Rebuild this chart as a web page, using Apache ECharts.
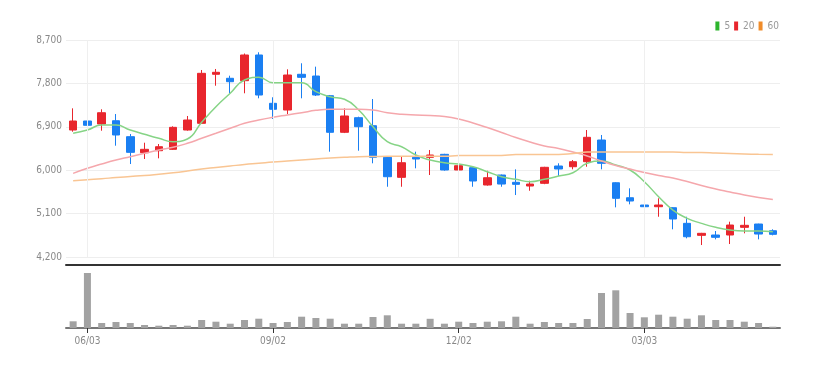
<!DOCTYPE html>
<html lang="ko">
<head>
<meta charset="utf-8" />
<title>Weekly candles</title>
<style>
  html, body { margin: 0; padding: 0; background: #fff; }
  #chart { width: 830px; height: 369px; }
</style>
</head>
<body>
<div id="chart"></div>
<script src="https://cdn.jsdelivr.net/npm/echarts@6/dist/echarts.min.js"></script>
<script>
const dates = ['05/27','06/03','06/10','06/17','06/24','07/01','07/08','07/15','07/22','07/29',
  '08/05','08/12','08/19','08/26','09/02','09/09','09/16','09/23','09/30','10/07',
  '10/14','10/21','10/28','11/04','11/11','11/18','11/25','12/02','12/09','12/16',
  '12/23','12/30','01/06','01/13','01/20','01/27','02/03','02/10','02/17','02/24',
  '03/03','03/10','03/17','03/24','03/31','04/07','04/14','04/21','04/28','05/05'];
const tickDates = ['06/03', '09/02', '12/02', '03/03'];

const opens  = [6833,7020,6958,7026,6695,6363,6404,6433,6833,6972, 7989,7906,7856,8389,7387,7248,7989,7953,7545,6786,
                7089,6923,6267,5852,6267,6267,6329,6004,6052,5693, 5900,5749,5672,5728,6087,6072,6176,6626,5740,5429,
                5278,5243,5222,4898,4649,4656,4656,4815,4884,4745];
const closes = [7020,6931,7192,6730,6370,6433,6487,6889,7041,8009, 8030,7835,8389,7559,7263,7974,7926,7559,6786,7124,
                6902,6267,5865,6155,6232,6315,6004,6093,5776,5844, 5713,5707,5713,6060,6025,6176,6682,6143,5417,5361,
                5243,5278,4988,4620,4691,4608,4863,4857,4676,4670];
const lows   = [6798,6889,6819,6508,6128,6232,6246,6420,6820,6958, 7752,7595,7595,7491,7062,7165,7491,7539,6384,6770,
                6404,6143,5657,5657,6039,5900,5990,5693,5657,5680, 5657,5485,5574,5710,5879,6018,6072,6018,5230,5292,
                5139,5035,4774,4587,4448,4566,4469,4691,4566,4649];
const highs  = [7283,7698,7263,7165,6750,6570,6543,6910,7124,8078, 8099,7960,8420,8445,7512,8092,8217,8147,7560,7283,
                7110,7476,6280,6294,6384,6419,6340,6155,6060,5989, 5910,6018,5782,6070,6143,6211,6833,6730,5750,5624,
                5361,5417,5230,5035,4700,4739,4932,5035,4890,4774];

const ma5  = [6765,6833,6937,6937,6833,6744,6661,6591,6647,6995, 7317,7595,7870,7926,7815,7815,7815,7628,7524,7470,
              7248,6902,6591,6487,6315,6211,6155,6128,6072,5969, 5865,5811,5761,5811,5879,5948,6143,6190,6107,6004,
              5761,5450,5174,5002,4898,4815,4760,4739,4739,4725];
const ma20 = [5935,6039,6128,6211,6280,6350,6419,6475,6557,6661, 6765,6869,6972,7041,7097,7145,7192,7241,7263,7263,
              7263,7248,7192,7159,7145,7135,7114,7062,6979,6885, 6782,6678,6585,6502,6450,6377,6294,6190,6097,6024,
              5952,5890,5838,5765,5682,5610,5548,5485,5433,5392];
const ma60 = [5782,5803,5823,5848,5869,5890,5917,5946,5983,6025, 6056,6087,6118,6143,6170,6190,6211,6232,6253,6267,
              6280,6284,6288,6288,6288,6288,6288,6305,6305,6305, 6305,6325,6325,6325,6325,6346,6377,6377,6377,6377,
              6377,6377,6377,6367,6367,6357,6346,6336,6329,6325];

const volumes = [134,1100,100,120,100,60,46,60,46,160, 126,86,160,186,100,120,226,200,186,86,
                 86,220,254,86,86,184,86,126,100,126, 134,226,86,120,100,100,180,700,754,300,
                 214,266,226,186,254,160,160,126,100,26];

const upColor = '#e8262d';
const downColor = '#1a7ff2';
const labelFont = "'Liberation Sans Narrow', 'DejaVu Sans Condensed', sans-serif";

const candles = dates.map((d, i) => [opens[i], closes[i], lows[i], highs[i]]);
const showTick = (idx, val) => tickDates.indexOf(val) !== -1;

const chart = echarts.init(document.getElementById('chart'));
chart.setOption({
  animation: false,
  backgroundColor: '#fff',
  legend: {
    data: ['5', '20', '60'],
    top: 16,
    right: 46,
    icon: 'rect',
    itemWidth: 4,
    itemHeight: 9,
    itemGap: 4,
    textStyle: { fontSize: 10, color: '#999', fontFamily: labelFont }
  },
  grid: [
    { left: 66, right: 50, top: 40, height: 217 },
    { left: 66, right: 50, top: 268, height: 60 }
  ],
  xAxis: [
    {
      type: 'category', gridIndex: 0, data: dates, offset: 8,
      axisLine: { lineStyle: { color: '#333', width: 2 } },
      axisTick: { show: false },
      axisLabel: { show: false },
      splitLine: { show: false }
    },
    {
      type: 'category', gridIndex: 1, data: dates,
      axisLine: { lineStyle: { color: '#777', width: 2 } },
      axisTick: { show: true, alignWithLabel: true, interval: showTick, length: 5, lineStyle: { color: '#333', width: 1 } },
      axisLabel: { interval: showTick, color: '#888', fontSize: 10, margin: 8, fontFamily: labelFont }
    }
  ],
  yAxis: [
    {
      type: 'value', gridIndex: 0, min: 4200, max: 8700, interval: 900,
      axisLine: { show: false },
      axisTick: { show: false },
      splitLine: { lineStyle: { color: '#eeeeee' } },
      axisLabel: {
        color: '#888', fontSize: 10, margin: 4, fontFamily: labelFont,
        formatter: v => v.toLocaleString('en-US')
      }
    },
    {
      type: 'value', gridIndex: 1, min: 0, max: 1200,
      axisLine: { show: false }, axisTick: { show: false },
      axisLabel: { show: false }, splitLine: { show: false }
    }
  ],
  series: [
    {
      name: 'price', type: 'candlestick', xAxisIndex: 0, yAxisIndex: 0,
      data: candles, barWidth: 8,
      itemStyle: { color: upColor, color0: downColor, borderColor: upColor, borderColor0: downColor, borderWidth: 1 },
      markLine: {
        silent: true, symbol: 'none', label: { show: false },
        lineStyle: { color: '#efefef', width: 1, type: 'solid' },
        data: tickDates.map(d => ({ xAxis: d }))
      }
    },
    {
      name: '5', type: 'line', data: ma5, smooth: true, showSymbol: false,
      lineStyle: { color: '#86d486', width: 1.5 }, itemStyle: { color: '#2db52d' }
    },
    {
      name: '20', type: 'line', data: ma20, smooth: true, showSymbol: false,
      lineStyle: { color: '#f5a7ac', width: 1.5 }, itemStyle: { color: '#e8262d' }
    },
    {
      name: '60', type: 'line', data: ma60, smooth: true, showSymbol: false,
      lineStyle: { color: '#f9c593', width: 1.5 }, itemStyle: { color: '#f08c2a' }
    },
    {
      name: 'volume', type: 'bar', xAxisIndex: 1, yAxisIndex: 1,
      data: volumes, barWidth: 7,
      itemStyle: { color: '#a2a2a2' }
    }
  ]
});
</script>
</body>
</html>
